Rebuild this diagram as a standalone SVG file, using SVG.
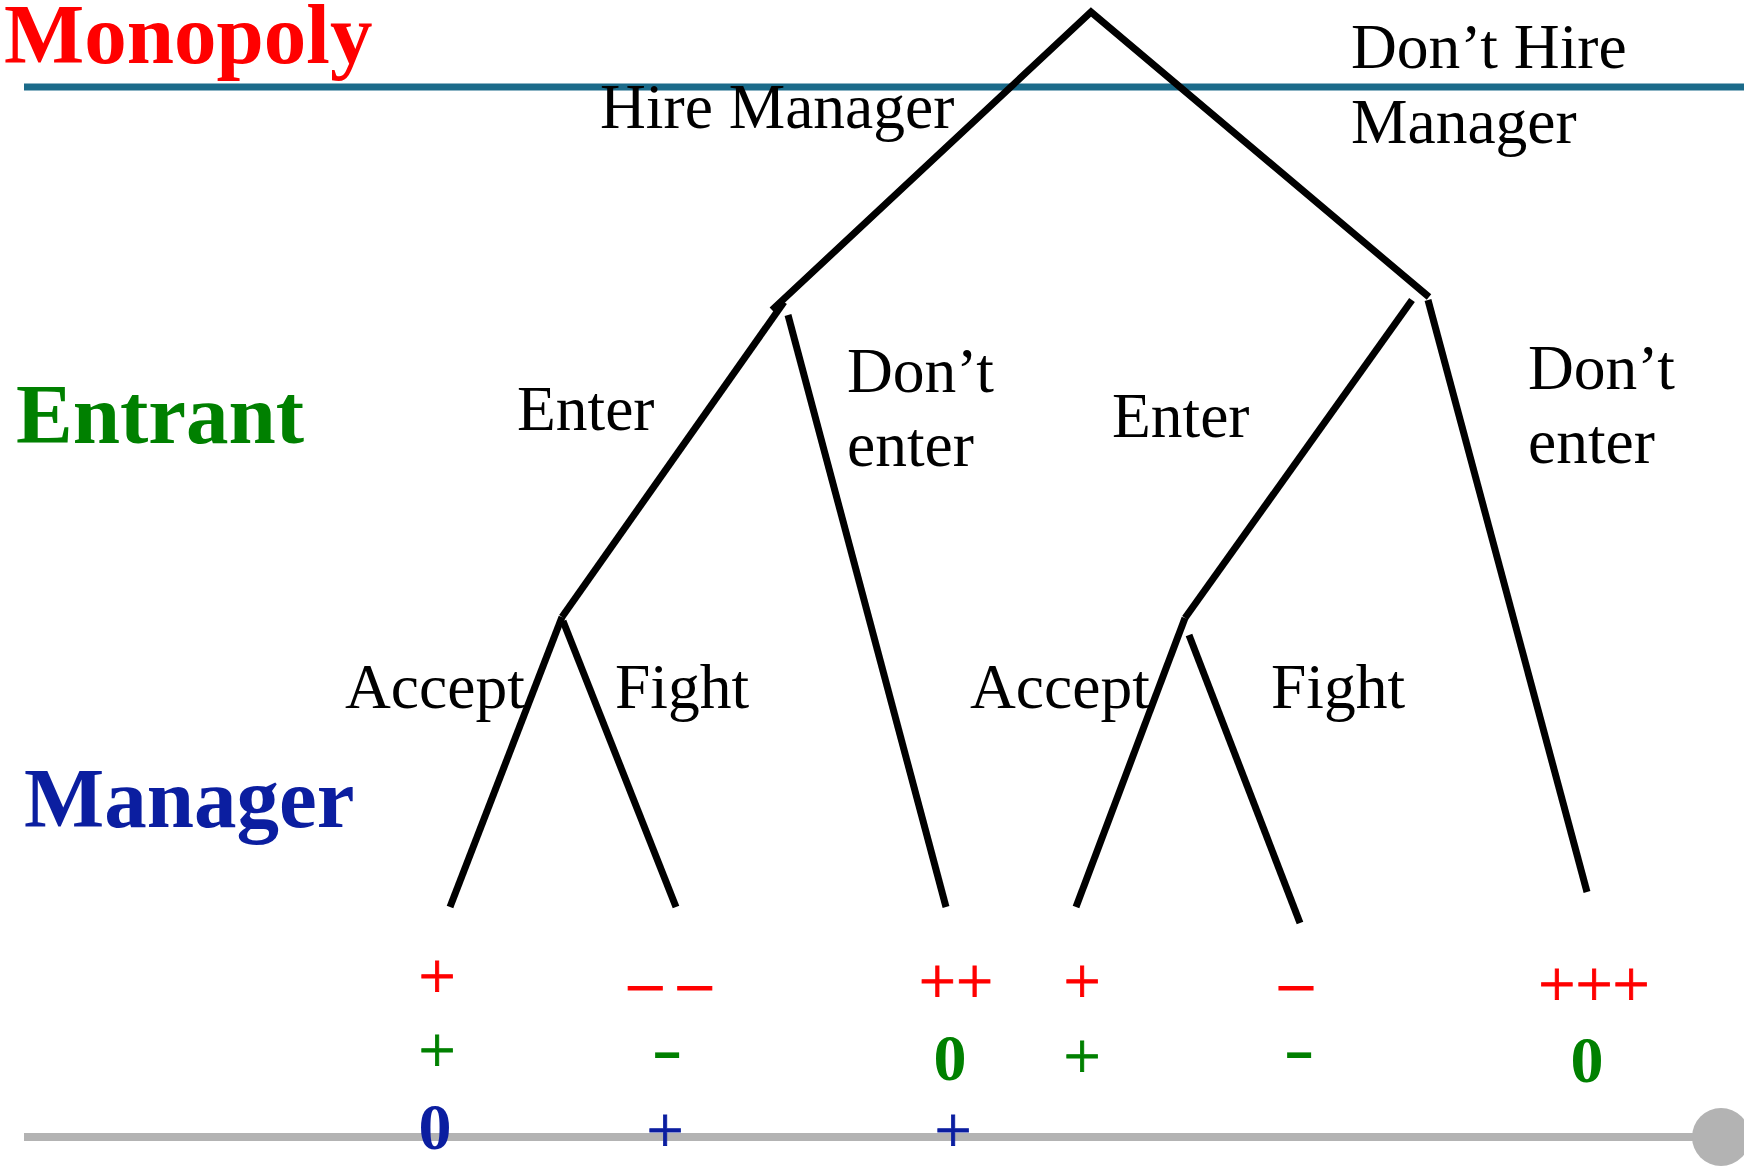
<svg xmlns="http://www.w3.org/2000/svg" width="1744" height="1166" viewBox="0 0 1744 1166">
<style>
.lbl{font-family:"Liberation Serif","Times New Roman",serif;font-size:63.5px;fill:#000}
.hdr{font-family:"Liberation Serif","Times New Roman",serif;font-size:85px;font-weight:bold}
.pay{font-family:"Liberation Serif","Times New Roman",serif;font-size:66px;text-anchor:middle}
.bold{font-weight:bold}
.r{fill:#FF0000}
.g{fill:#008000}
.b{fill:#0B1EA0}
.pr{stroke:#FF0000;stroke-width:0.8}
.pg{stroke:#008000;stroke-width:0.8}
.pb{stroke:#0B1EA0;stroke-width:0.8}
.dash{stroke:#FF0000;stroke-width:1.2}
.edge{stroke:#000;stroke-width:7;fill:none;stroke-linecap:butt;stroke-linejoin:miter}
</style>
<rect width="1744" height="1166" fill="#fff"/>
<g id="rules">
<line x1="24" y1="87" x2="1744" y2="87" stroke="#1B6B8A" stroke-width="7"/>
<line x1="24" y1="1137" x2="1700" y2="1137" stroke="#B3B3B3" stroke-width="8"/>
<circle cx="1721" cy="1137" r="29" fill="#B3B3B3"/>
</g>
<g id="players">
<text id="monopoly" class="hdr r" x="4" y="63">Monopoly</text>
<text id="entrant" class="hdr g" x="16" y="443">Entrant</text>
<text id="manager" class="hdr b" x="24" y="827">Manager</text>
</g>
<g id="connectors">
<polyline class="edge" points="772,310 1091,12 1429,297"/>
<line class="edge" x1="784" y1="302" x2="562" y2="617"/>
<line class="edge" x1="788" y1="315" x2="946" y2="907"/>
<line class="edge" x1="1412" y1="300" x2="1185" y2="618"/>
<line class="edge" x1="1428" y1="300" x2="1587" y2="892"/>
<line class="edge" x1="562" y1="617" x2="450" y2="907"/>
<line class="edge" x1="563" y1="621" x2="676" y2="907"/>
<line class="edge" x1="1185" y1="618" x2="1076" y2="907"/>
<line class="edge" x1="1189" y1="635" x2="1300" y2="923"/>
</g>
<g id="edge-labels">
<text class="lbl" x="600" y="128">Hire Manager</text>
<text class="lbl" x="1351" y="68">Don’t Hire</text>
<text class="lbl" x="1351" y="143">Manager</text>
<text class="lbl" x="517" y="430">Enter</text>
<text class="lbl" x="847" y="392">Don’t</text>
<text class="lbl" x="847" y="466">enter</text>
<text class="lbl" x="1112" y="437">Enter</text>
<text class="lbl" x="1528" y="389">Don’t</text>
<text class="lbl" x="1528" y="463">enter</text>
<text class="lbl" x="345" y="708">Accept</text>
<text class="lbl" x="615" y="708">Fight</text>
<text class="lbl" x="970" y="708">Accept</text>
<text class="lbl" x="1271" y="708">Fight</text>
</g>
<g id="payoff-1">
<text class="pay r pr" x="437" y="998">+</text>
<text class="pay g pg" x="437" y="1072">+</text>
<text class="pay bold b" x="435" y="1149">0</text>
</g>
<g id="payoff-2">
<text class="pay r dash" x="670" y="1004">– –</text>
<text class="pay bold g" transform="translate(667,1071) scale(1.4,1)" x="0" y="0" font-size="75">-</text>
<text class="pay b pb" x="665" y="1152">+</text>
</g>
<g id="payoff-3">
<text class="pay r pr" x="956" y="1003">++</text>
<text class="pay bold g" x="950" y="1080">0</text>
<text class="pay b pb" x="953" y="1152">+</text>
</g>
<g id="payoff-4">
<text class="pay r pr" x="1082" y="1003">+</text>
<text class="pay g pg" x="1082" y="1078">+</text>
</g>
<g id="payoff-5">
<text class="pay r dash" x="1296" y="1004">–</text>
<text class="pay bold g" transform="translate(1299,1071) scale(1.4,1)" x="0" y="0" font-size="75">-</text>
</g>
<g id="payoff-6">
<text class="pay r pr" x="1594" y="1006">+++</text>
<text class="pay bold g" x="1587" y="1082">0</text>
</g>
</svg>
